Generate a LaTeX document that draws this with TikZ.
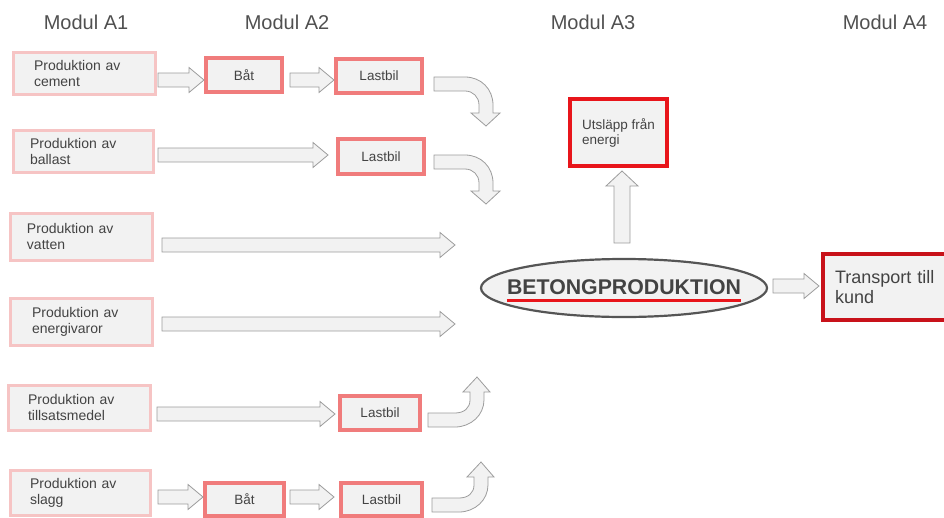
\documentclass[tikz,border=0pt]{standalone}
\usepackage{fontspec}
\setmainfont{Liberation Sans}
\usetikzlibrary{shapes.geometric}
\definecolor{txt}{HTML}{434343}
\definecolor{hdr}{HTML}{505050}
\definecolor{boxfill}{HTML}{F2F2F2}
\definecolor{pinkline}{HTML}{F6C4C4}
\definecolor{redline}{HTML}{F07C7C}
\definecolor{strongred}{HTML}{E8151B}
\definecolor{darkred}{HTML}{C8121A}
\definecolor{arrline}{HTML}{9C9C9C}
\definecolor{ellline}{HTML}{555555}
\tikzset{
  hdrtext/.style={text=hdr, font=\fontsize{20}{24}\selectfont, inner sep=0pt},
  abox/.style={draw=pinkline, line width=3pt, fill=boxfill, text=txt, align=left,
    font=\fontsize{14}{16}\selectfont, inner ysep=0pt},
  bbox/.style={draw=redline, line width=3.3pt, fill=boxfill, text=txt, align=center,
    font=\fontsize{13.5}{16}\selectfont, inner sep=0pt},
  barrow/.style={draw=arrline, fill=boxfill, line width=0.8pt, line join=miter},
}
% horizontal block arrow: x1, x2, y
\newcommand\blockR[3]{%
  \draw[barrow] (#1,#3-7) -- (#2-15,#3-7) -- (#2-15,#3-12.5) -- (#2,#3)
    -- (#2-15,#3+12.5) -- (#2-15,#3+7) -- (#1,#3+7) -- cycle;}
% bent-down arrow: x0, top y of shaft
\newcommand\bentdown[2]{%
  \draw[barrow] (#1,#2) -- (#1+31,#2) .. controls (#1+47,#2) and (#1+59,#2+12) .. (#1+59,#2+28)
    -- (#1+59,#2+36) -- (#1+66,#2+36) -- (#1+52,#2+49) -- (#1+37,#2+36) -- (#1+45,#2+36)
    -- (#1+45,#2+28) .. controls (#1+45,#2+20) and (#1+39,#2+14) .. (#1+31,#2+14)
    -- (#1,#2+14) -- cycle;}
% bent-up arrow: x0, bottom y of shaft
\newcommand\bentup[2]{%
  \draw[barrow] (#1,#2) -- (#1+27,#2) .. controls (#1+43,#2) and (#1+56,#2-12) .. (#1+56,#2-27)
    -- (#1+56,#2-35) -- (#1+62,#2-35) -- (#1+49,#2-50) -- (#1+35,#2-35) -- (#1+42,#2-35)
    -- (#1+42,#2-27) .. controls (#1+42,#2-19) and (#1+36,#2-14) .. (#1+27,#2-14)
    -- (#1,#2-14) -- cycle;}
\begin{document}
\begin{tikzpicture}[x=1pt,y=-1pt]
\useasboundingbox (0,0) rectangle (944,517);
% headers
\node[hdrtext] (hA1) at (86,22) {Modul A1};
\node[hdrtext] (hA2) at (287,22) {Modul A2};
\node[hdrtext] (hA3) at (593,22) {Modul A3};
\node[hdrtext] (hA4) at (885,22) {Modul A4};
% A1 boxes
\node[abox, inner xsep=21pt, text width=100pt, minimum height=42pt] (p1) at (84,73) {Produktion av\\cement};
\node[abox, inner xsep=17pt, text width=106pt, minimum height=42pt] (p2) at (83,151) {Produktion av\\ballast};
\node[abox, inner xsep=17pt, text width=108pt, minimum height=47pt] (p3) at (81,236.5) {Produktion av\\vatten};
\node[abox, inner xsep=22pt, text width=98pt, minimum height=47pt] (p4) at (81,321.5) {Produktion av\\energivaror};
\node[abox, inner xsep=20pt, text width=102pt, minimum height=45pt] (p5) at (79,407.5) {Produktion av\\tillsatsmedel};
\node[abox, inner xsep=20pt, text width=100pt, minimum height=45pt] (p6) at (80,492.5) {Produktion av\\slagg};
% A2 boxes
\node[bbox, minimum width=76pt, minimum height=34pt] (bat1) at (244,75) {Båt};
\node[bbox, minimum width=86pt, minimum height=34pt] (lb1) at (379,76) {Lastbil};
\node[bbox, minimum width=86pt, minimum height=35pt] (lb2) at (381,156.5) {Lastbil};
\node[bbox, minimum width=80pt, minimum height=34pt] (lb3) at (380,413) {Lastbil};
\node[bbox, minimum width=79pt, minimum height=33pt] (bat2) at (244.5,499.5) {Båt};
\node[bbox, minimum width=81pt, minimum height=33pt] (lb4) at (381.5,499.5) {Lastbil};
% A3
\node[draw=ellline, line width=2.2pt, fill=boxfill, ellipse, minimum width=286pt, minimum height=58pt, inner sep=0pt] (beton) at (624,288) {};
\node[text=txt, font=\bfseries\fontsize{21.3}{24}\selectfont, inner sep=0pt] (betontxt) at (624,287) {BETONGPRODUKTION};
\draw[strongred, line width=2.6pt] (betontxt.south west) ++(0,6) coordinate (ul1) -- (betontxt.south east |- ul1);
\node[draw=strongred, line width=3.3pt, fill=boxfill, text=txt, align=left, inner xsep=12pt, minimum width=97pt,
      minimum height=67pt, font=\fontsize{13.5}{15}\selectfont] (utsl) at (618.5,132.5) {Utsläpp från\\energi};
% A4
\node[draw=darkred, line width=3.3pt, fill=boxfill, text=txt, align=left, inner xsep=12pt, text width=108pt,
      minimum height=66pt, font=\fontsize{18}{20}\selectfont] (trans) at (889,287) {Transport till\\kund};
% arrows row 1
\blockR{158}{204}{80}
\blockR{290}{334}{80}
\bentdown{434}{77}
% row 2
\blockR{158}{328}{155}
\bentdown{434}{155}
% row 3, 4
\blockR{162}{455}{245}
\blockR{162}{455}{324}
% row 5
\blockR{157}{335}{414}
\bentup{428}{427}
% row 6
\blockR{158}{203}{497}
\blockR{290}{334}{497}
\bentup{432}{512}
% up arrow to Utslapp
\draw[barrow] (614,243) -- (614,186) -- (606,186) -- (622,171) -- (638,186) -- (630,186) -- (630,243) -- cycle;
% right arrow to transport
\blockR{773}{819}{286}
\end{tikzpicture}
\end{document}
